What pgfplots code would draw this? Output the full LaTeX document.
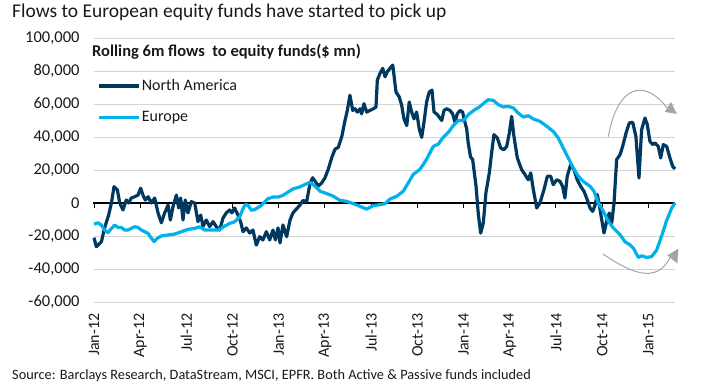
\documentclass[border=0pt]{standalone}
\usepackage{fontspec}
\setmainfont{Carlito}
\usepackage{pgfplots}
\usepackage{pgfplotstable}
\pgfplotsset{compat=1.18}
\definecolor{na}{RGB}{0,56,95}
\definecolor{eu}{RGB}{0,178,236}
\definecolor{gridc}{RGB}{212,212,212}
\definecolor{txt}{RGB}{25,25,25}
\definecolor{arr}{RGB}{165,165,165}

% x = months since Jan-2012, y = rolling 6m flows ($ mn)
\pgfplotstableread{
m v
0 -21000
0.15 -26500
0.48 -23500
0.69 -15000
0.95 -7300
1.13 0
1.30 9900
1.52 7900
1.67 0
1.88 -4200
2.10 1800
2.25 0
2.42 3000
2.64 3800
2.86 4800
3.03 9000
3.18 4800
3.33 1800
3.51 3800
3.72 0
3.94 3000
4.16 -6000
4.37 -12000
4.59 -6000
4.81 -1200
4.96 -10300
5.13 -2200
5.35 4800
5.50 -3000
5.63 3000
5.78 -10300
5.93 1800
6.10 -6000
6.32 800
6.54 0
6.75 -11300
6.93 -7300
7.08 -14300
7.29 -10300
7.51 -14300
7.73 -11300
7.94 -14300
8.16 -16400
8.38 -9100
8.59 -6000
8.81 -4200
8.96 -6000
9.13 -3000
9.35 -7300
9.52 -11300
9.68 -17400
9.89 -15100
10.11 -18200
10.32 -16400
10.54 -25500
10.76 -20400
10.97 -22400
11.19 -17400
11.41 -22400
11.62 -16400
11.78 -22400
11.95 -15100
12.08 -24200
12.27 -13300
12.51 -20400
12.73 -10300
12.92 -6000
13.16 -3500
13.38 -1200
13.57 1500
13.81 800
14.03 12000
14.20 15300
14.35 13300
14.56 10200
14.79 12200
15.00 15300
15.21 20400
15.44 27500
15.65 32600
15.86 33700
16.08 39800
16.30 50000
16.45 56100
16.62 65300
16.80 56100
16.95 57100
17.10 55100
17.27 57100
17.38 54000
17.53 60200
17.71 55100
17.92 56100
18.14 57100
18.31 58100
18.40 74500
18.57 78500
18.75 81600
18.90 76500
19.05 79600
19.22 81600
19.40 83600
19.48 77500
19.61 67300
19.82 64300
19.98 59200
20.13 51000
20.31 46900
20.47 61200
20.63 55100
20.78 51000
20.95 55100
21.12 44900
21.28 39800
21.43 49000
21.60 61200
21.77 67300
21.95 68400
22.08 55100
22.25 54000
22.42 52000
22.58 50000
22.73 56100
22.90 57100
23.12 56100
23.29 54000
23.44 49000
23.59 54000
23.77 56100
23.94 55100
24.03 51000
24.20 45000
24.30 36400
24.45 28000
24.59 26300
24.81 10100
24.95 -6100
25.11 -18200
25.28 -12100
25.45 6100
25.67 18200
25.82 30300
25.97 41400
26.19 39400
26.41 33300
26.62 32300
26.80 34300
26.97 42400
27.12 52500
27.27 40400
27.49 27300
27.77 20200
27.99 17200
28.20 14100
28.36 18200
28.53 8100
28.75 -3000
28.96 0
29.22 8100
29.44 16200
29.66 16200
29.82 11100
30.05 14100
30.26 13100
30.43 10100
30.58 3000
30.73 16200
30.95 23200
31.17 20200
31.38 14100
31.60 10100
31.82 7100
32.03 2000
32.21 -3000
32.38 -5100
32.55 -1000
32.68 5100
32.81 -1000
32.97 -10100
33.12 -18200
33.29 -11100
33.46 -6100
33.62 -12100
33.77 0
33.94 26300
34.16 29300
34.33 34300
34.55 42400
34.76 48500
34.98 48900
35.19 40400
35.39 15200
35.56 44400
35.78 51500
35.93 47500
36.10 37400
36.28 35400
36.43 36400
36.64 34300
36.80 27300
36.97 35400
37.19 34300
37.40 27300
37.58 22200
37.73 20600
}\northamerica

\pgfplotstableread{
m v
0 -12800
0.26 -12000
0.48 -13400
0.69 -16400
0.91 -18000
1.13 -15400
1.34 -13400
1.56 -14800
1.77 -14800
1.99 -16400
2.21 -16400
2.42 -15400
2.64 -14400
2.86 -14800
3.07 -16400
3.29 -17400
3.51 -18400
3.68 -20800
3.90 -23400
4.11 -21400
4.37 -20000
4.81 -19400
5.24 -18800
5.67 -17400
6.10 -16000
6.54 -15400
6.86 -14400
7.19 -16400
7.62 -16400
8.05 -16400
8.27 -15400
8.48 -14000
8.81 -12400
9.13 -11400
9.46 -8400
9.68 -3400
9.83 -800
10.00 -1400
10.22 -4400
10.43 -4000
10.65 -2800
10.87 -1400
11.08 600
11.30 2600
11.62 3600
11.95 3600
12.27 4600
12.51 6100
12.94 8600
13.38 9800
13.70 11200
14.03 12600
14.35 10200
14.68 7100
15.11 5700
15.54 4100
15.97 1600
16.41 1000
16.84 -400
17.27 -2000
17.71 -3700
18.14 -1600
18.57 -1000
18.90 -400
19.22 2400
19.66 4100
20.08 7100
20.41 12200
20.73 17300
21.17 20400
21.60 26500
22.03 34300
22.36 35700
22.68 39800
23.01 42800
23.33 46900
23.66 50000
23.98 50000
24.37 54100
24.74 56600
25.02 58200
25.28 60200
25.60 62600
25.93 62200
26.25 59600
26.58 58200
26.90 58600
27.23 57600
27.55 54500
27.88 52100
28.20 52900
28.53 50900
28.96 49500
29.40 46500
29.82 43400
30.15 39400
30.47 33300
30.80 27300
31.12 21200
31.45 16200
31.77 13100
32.21 10100
32.47 7100
32.75 0
33.07 -5000
33.40 -11100
33.72 -15100
34.16 -19200
34.48 -23500
34.81 -25400
35.03 -27400
35.35 -33000
35.57 -32000
35.89 -33000
36.21 -32500
36.54 -28500
36.86 -20000
37.19 -10500
37.52 -3000
37.73 0
}\europe

\begin{document}
\begin{tikzpicture}[x=1pt,y=1pt]
\useasboundingbox (0,0) rectangle (703,387);
\node[anchor=base west, inner sep=0, text=txt, font=\fontsize{19.5}{22}\selectfont] at (12,369) {Flows to European equity funds have started to pick up};
\node[anchor=base west, inner sep=0, text=txt, font=\fontsize{14.3}{17}\selectfont] at (12,7) {Source: Barclays Research, DataStream, MSCI, EPFR. Both Active \& Passive funds included};
\begin{axis}[
  at={(94pt,85pt)}, anchor=south west,
  scale only axis, width=581pt, height=264pt,
  xmin=0, xmax=37.73, ymin=-60000, ymax=100000,
  clip=false,
  axis line style={draw=none},
  major tick style={draw=none},
  ytick={-60000,-40000,-20000,0,20000,40000,60000,80000,100000},
  yticklabels={{-60,000},{-40,000},{-20,000},{0},{20,000},{40,000},{60,000},{80,000},{100,000}},
  xtick={0,3,...,36},
  xticklabels={Jan-12,Apr-12,Jul-12,Oct-12,Jan-13,Apr-13,Jul-13,Oct-13,Jan-14,Apr-14,Jul-14,Oct-14,Jan-15},
  scaled y ticks=false,
  ymajorgrids, grid style={gridc, line width=0.7pt},
  yticklabel style={font=\fontsize{16.5}{19}\selectfont, text=txt, anchor=east, xshift=-11pt},
  xticklabel style={font=\fontsize{16}{19}\selectfont, text=txt, rotate=90, anchor=east},
  xticklabel shift=8pt,
  legend style={at={(rel axis cs:0.005,0.85)}, anchor=north west, draw=none, fill=none,
    font=\fontsize{16}{19}\selectfont, text=txt, row sep=15pt, inner sep=0pt,
    nodes={inner xsep=1.5pt}},
  legend cell align=left,
  legend image code/.code={\draw[#1] (0pt,0pt) -- (40pt,0pt);},
]
\draw[gridc, line width=0.7pt] (axis cs:0,100000) -- (axis cs:37.73,100000);
\draw[black, line width=2pt] (axis cs:-0.05,0) -- (axis cs:37.73,0);
\pgfplotsinvokeforeach{0,3,...,36}{\draw[black, line width=1pt] (axis cs:#1,0) -- (axis cs:#1,-3200);}
\addplot[na, line width=3.2pt, line join=round] table[x=m,y=v] {\northamerica};
\addlegendentry{North America}
\addplot[eu, line width=3.2pt, line join=round] table[x=m,y=v] {\europe};
\addlegendentry{Europe}
\draw[arr, line width=1pt] (axis cs:33.4,40200) .. controls (axis cs:34.0,72000) and (axis cs:35.8,76000) .. (axis cs:37.3,56500);
\fill[arr] (axis cs:37.85,54000) -- ++(-12pt,2pt) -- ++(6pt,10pt) -- cycle;
\draw[arr, line width=1pt] (axis cs:33.05,-30900) .. controls (axis cs:34.5,-40000) and (axis cs:36.6,-52000) .. (axis cs:37.5,-31000);
\fill[arr] (axis cs:37.95,-27600) -- ++(-11pt,-7pt) -- ++(10pt,-8pt) -- cycle;
\end{axis}
\node[anchor=base west, inner sep=0, text=txt, font=\bfseries\fontsize{16.5}{19}\selectfont] at (92,330) {Rolling 6m flows\ \ to equity funds(\$ mn)};
\end{tikzpicture}
\end{document}
